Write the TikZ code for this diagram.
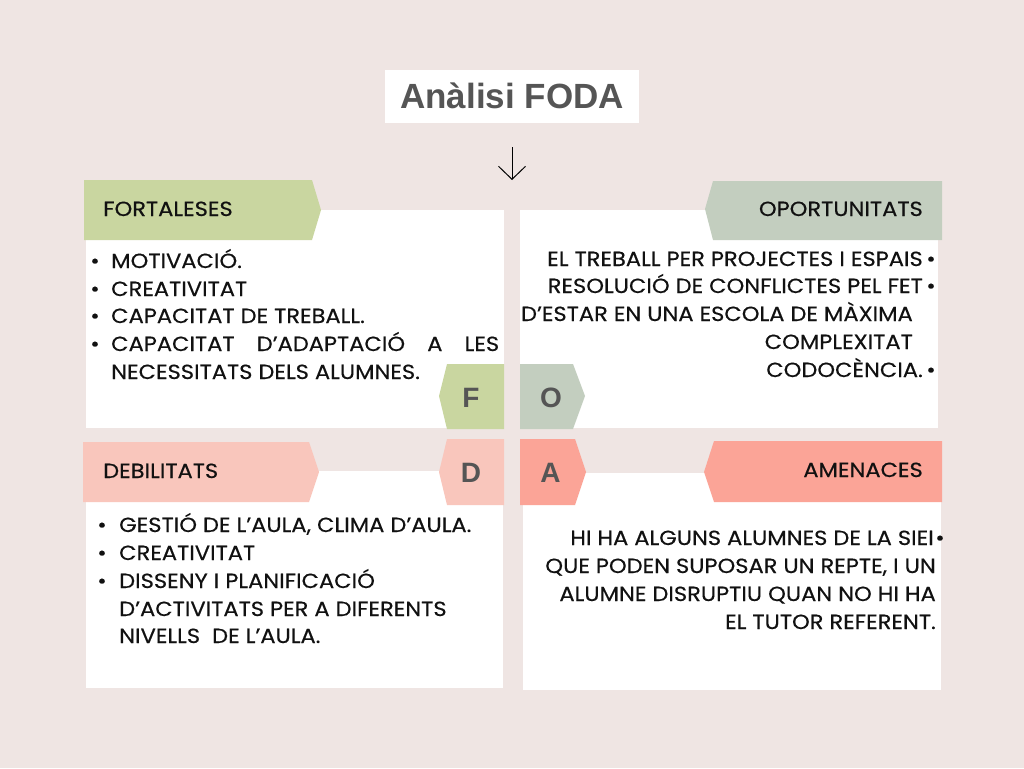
\documentclass[tikz,border=0pt]{standalone}
\usepackage{fontspec}
\setmainfont{Poppins}
\newfontfamily\bodyfont[FakeStretch=1.1,FakeBold=0.4]{Poppins}
\newfontfamily\headfont{Liberation Sans}
\usetikzlibrary{arrows.meta}

\definecolor{bgpink}{HTML}{EFE5E3}
\definecolor{fgreen}{HTML}{C9D6A0}
\definecolor{osage}{HTML}{C3CEBF}
\definecolor{dpink}{HTML}{F9C6BC}
\definecolor{asalmon}{HTML}{FBA497}
\definecolor{ink}{HTML}{111111}
\definecolor{letgray}{HTML}{555555}

\tikzset{
  txt/.style={inner sep=0pt, font=\bodyfont\fontsize{20.5}{20.5}\selectfont, text=ink},
  lw/.style={txt, anchor=base west},
  le/.style={txt, anchor=base east},
  bul/.style={txt, anchor=base},
  hdr/.style={txt},
  letter/.style={inner sep=0pt, anchor=base, font=\headfont\bfseries\fontsize{28}{28}\selectfont, text=letgray},
  card/.style={fill=white, draw=none},
}

\begin{document}
\begin{tikzpicture}[x=1pt,y=-1pt]
\useasboundingbox (0,0) rectangle (1024,768);
\fill[bgpink] (0,0) rectangle (1024,768);

% title
\node[fill=white, minimum width=254pt, minimum height=53pt, inner sep=0pt] (titlebox) at (512,96.5) {};
\node[inner sep=0pt, anchor=base, font=\headfont\bfseries\fontsize{35}{35}\selectfont, text=letgray] (title) at (512,108) {Anàlisi FODA};

% arrow below the title
\coordinate (arrtop) at (512,147);
\coordinate (arrbot) at (512,180);
\draw[line width=1pt, -{Straight Barb[length=13pt,width=27pt,line width=1pt]}] (arrtop) -- (arrbot);

% white cards
\fill[card] (86,210) rectangle (504,428);
\fill[card] (520,210) rectangle (938,428);
\fill[card] (86,471) rectangle (503,688);
\fill[card] (523,473) rectangle (941,690);

% header banners
\fill[fgreen] (84,180) -- (312,180) -- (321,210) -- (312,240) -- (84,240) -- cycle;
\fill[osage] (713,181) -- (942,181) -- (942,240) -- (713,240) -- (705,209) -- cycle;
\fill[dpink] (83,442) -- (309,442) -- (319,472) -- (309,502) -- (83,502) -- cycle;
\fill[asalmon] (714,441) -- (942,441) -- (942,502) -- (714,502) -- (704,472) -- cycle;

% letter tabs
\fill[fgreen] (447,364) -- (504,364) -- (504,429) -- (447,429) -- (439,396) -- cycle;
\fill[osage] (520,364) -- (573,364) -- (585,396) -- (573,429) -- (520,429) -- cycle;
\fill[dpink] (447,439) -- (504,439) -- (504,505) -- (447,505) -- (439,472) -- cycle;
\fill[asalmon] (520,439) -- (575,439) -- (586,472) -- (575,505) -- (520,505) -- cycle;

\node[letter] (lf) at (471,407) {F};
\node[letter] (lo) at (551,407) {O};
\node[letter] (ld) at (471,482) {D};
\node[letter] (la) at (550.5,482) {A};

% header texts
\node[hdr, anchor=base west] (hf) at (103,216) {FORTALESES};
\node[hdr, anchor=base east] (ho) at (923,216) {OPORTUNITATS};
\node[hdr, anchor=base west] (hd) at (103,478) {DEBILITATS};
\node[hdr, anchor=base east] (ha) at (923,477) {AMENACES};

% fortaleses
\node[bul] (fb1) at (95,268) {•};
\node[lw] (f1) at (111,268) {MOTIVACIÓ.};
\node[bul] (fb2) at (95,296) {•};
\node[lw] (f2) at (111,296) {CREATIVITAT};
\node[bul] (fb3) at (95,323) {•};
\node[lw] (f3) at (111,323) {CAPACITAT DE TREBALL.};
\node[bul] (fb4) at (95,351) {•};
\node[lw] (f4) at (111,351) {\makebox[388pt][s]{CAPACITAT\hfill D’ADAPTACIÓ\hfill A\hfill LES}};
\node[lw] (f5) at (111,379) {NECESSITATS DELS ALUMNES.};

% oportunitats
\node[le] (o1) at (923,266) {EL TREBALL PER PROJECTES I ESPAIS};
\node[bul] (ob1) at (931,266) {•};
\node[le] (o2) at (923,293) {RESOLUCIÓ DE CONFLICTES PEL FET};
\node[bul] (ob2) at (931,293) {•};
\node[le] (o3) at (913,321) {D’ESTAR EN UNA ESCOLA DE MÀXIMA};
\node[le] (o4) at (913,349) {COMPLEXITAT};
\node[le] (o5) at (923,377) {CODOCÈNCIA.};
\node[bul] (ob5) at (931,377) {•};

% debilitats
\node[bul] (db1) at (102,532) {•};
\node[lw] (d1) at (119,532) {GESTIÓ DE L’AULA, CLIMA D’AULA.};
\node[bul] (db2) at (102,560) {•};
\node[lw] (d2) at (119,560) {CREATIVITAT};
\node[bul] (db3) at (102,588) {•};
\node[lw] (d3) at (119,588) {DISSENY I PLANIFICACIÓ};
\node[lw] (d4) at (119,616) {D’ACTIVITATS PER A DIFERENTS};
\node[lw] (d5) at (119,643) {NIVELLS\ \ DE L’AULA.};

% amenaces
\node[le] (a1) at (934,545) {HI HA ALGUNS ALUMNES DE LA SIEI};
\node[bul] (ab1) at (940,545) {•};
\node[le] (a2) at (936,573) {QUE PODEN SUPOSAR UN REPTE, I UN};
\node[le] (a3) at (936,601) {ALUMNE DISRUPTIU QUAN NO HI HA};
\node[le] (a4) at (936,629) {EL TUTOR REFERENT.};
\end{tikzpicture}
\end{document}
